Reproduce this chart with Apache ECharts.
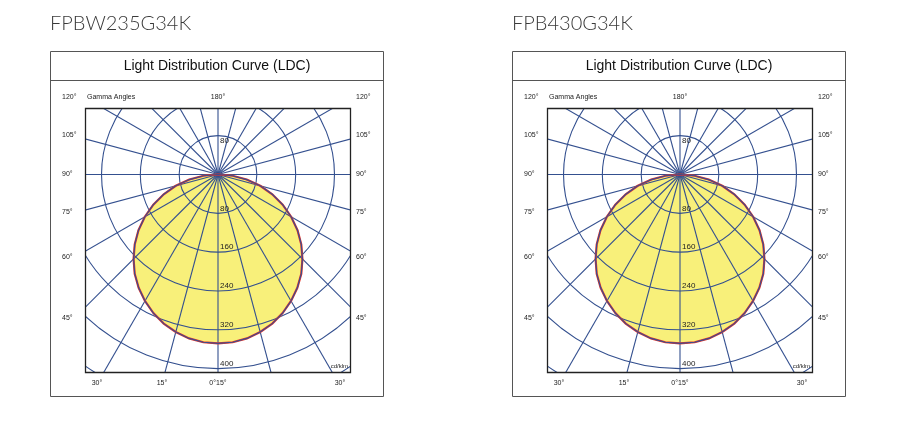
<!DOCTYPE html>
<html><head><meta charset="utf-8">
<script src="https://cdn.jsdelivr.net/npm/echarts@6/dist/echarts.min.js"></script>
<style>html,body{margin:0;padding:0;background:#fff}#c{width:900px;height:425px}</style>
</head><body><div id="c"></div>
<script>
const products = ['FPBW235G34K', 'FPB430G34K'];
const gammaAngles = [0,5,10,15,20,25,30,35,40,45,50,55,60,65,70,75,80,85,90];
const intensityA = [348,347,343,336,327,315,301,285,267,246,224,200,174,147,119,90,60,30,0];
const intensityB = [348,347,343,336,327,315,301,285,267,246,224,200,174,147,119,90,60,30,0];
const ringValues = [80,160,240,320,400,480];
const ringLabels = ['80','160','240','320','400'];
const spokeAngles = [0,15,30,45,60,75,90,105,120,135,150,165,180,195,210,225,240,255,270,285,300,315,330,345];
const leftTicks = [['120°',97],['105°',135],['90°',174],['75°',212],['60°',257],['45°',318]];
const bottomTicks = [['30°',97],['15°',162],['0°15°',218],['30°',340]];

const chart = echarts.init(document.getElementById('c'));
const OFF = 462;
const GC = '#34508f';
const FONT = 'Liberation Sans';

function polygonPts(api, vals) {
  const pts = [];
  for (let i = 0; i < gammaAngles.length; i++) {
    const a = gammaAngles[i] * Math.PI / 180;
    pts.push(api.coord([-vals[i] * Math.sin(a), -vals[i] * Math.cos(a)]));
  }
  for (let i = gammaAngles.length - 1; i >= 0; i--) {
    const a = gammaAngles[i] * Math.PI / 180;
    pts.push(api.coord([vals[i] * Math.sin(a), -vals[i] * Math.cos(a)]));
  }
  return pts;
}

function makeSeries(idx, vals) {
  return [{
    type: 'custom', xAxisIndex: idx, yAxisIndex: idx, clip: true, silent: true,
    data: [0],
    renderItem: function (params, api) {
      const c = api.coord([0, 0]);
      const children = [];
      const pts = polygonPts(api, vals);
      children.push({type: 'polygon', shape: {points: pts}, style: {fill: '#f8f07a', stroke: null}});
      ringValues.forEach(r => {
        const p = api.coord([r, 0]);
        children.push({type: 'circle', shape: {cx: c[0], cy: c[1], r: p[0] - c[0]},
          style: {fill: null, stroke: GC, lineWidth: 1.1}});
      });
      spokeAngles.forEach(d => {
        const a = d * Math.PI / 180;
        const e = api.coord([700 * Math.sin(a), -700 * Math.cos(a)]);
        children.push({type: 'line', shape: {x1: c[0], y1: c[1], x2: e[0], y2: e[1]},
          style: {stroke: GC, lineWidth: 1.1}});
      });
      children.push({type: 'polyline', shape: {points: pts.concat([pts[0]])}, style: {fill: null, stroke: '#e8372a', lineWidth: 2.2}});
      children.push({type: 'polyline', shape: {points: pts.concat([pts[0]])}, style: {fill: null, stroke: '#3a4d8f', lineWidth: 1.2}});
      ringLabels.forEach((t, i) => {
        const p = api.coord([0, -ringValues[i]]);
        children.push({type: 'text', style: {x: p[0] + 2, y: p[1] - 1, text: t, fill: '#222', font: '8px ' + FONT, textVerticalAlign: 'bottom'}});
      });
      const p80 = api.coord([0, ringValues[0]]);
      children.push({type: 'text', style: {x: p80[0] + 2, y: p80[1] + 1, text: '80', fill: '#222', font: '8px ' + FONT, textVerticalAlign: 'top'}});
      return {type: 'group', children: children};
    }
  }];
}

const graphic = [];
products.forEach((name, k) => {
  const o = k * OFF;
  graphic.push({type: 'text', left: 50 + o, top: 14, style: {text: name, fill: '#3a3a3a', font: '300 20px Lato'}});
  graphic.push({type: 'rect', shape: {x: 50.5 + o, y: 51.5, width: 333, height: 345}, style: {fill: null, stroke: '#555', lineWidth: 1}});
  graphic.push({type: 'line', shape: {x1: 50.5 + o, y1: 80.5, x2: 383.5 + o, y2: 80.5}, style: {stroke: '#555', lineWidth: 1}});
  graphic.push({type: 'text', x: 217 + o, y: 66, style: {text: 'Light Distribution Curve (LDC)', fill: '#111', font: '14px ' + FONT, align: 'center', verticalAlign: 'middle'}});
  graphic.push({type: 'rect', z: 10, shape: {x: 85.5 + o, y: 108.5, width: 265, height: 264}, style: {fill: null, stroke: '#222', lineWidth: 1.3}});
  leftTicks.forEach(t => {
    graphic.push({type: 'text', x: 62 + o, y: t[1], style: {text: t[0], fill: '#222', font: '7px ' + FONT, verticalAlign: 'middle'}});
    graphic.push({type: 'text', x: 356 + o, y: t[1], style: {text: t[0], fill: '#222', font: '7px ' + FONT, verticalAlign: 'middle'}});
  });
  bottomTicks.forEach(t => {
    graphic.push({type: 'text', x: t[1] + o, y: 383, style: {text: t[0], fill: '#222', font: '7px ' + FONT, align: 'center', verticalAlign: 'middle'}});
  });
  graphic.push({type: 'text', x: 218 + o, y: 97, style: {text: '180°', fill: '#222', font: '7px ' + FONT, align: 'center', verticalAlign: 'middle'}});
  graphic.push({type: 'text', x: 87 + o, y: 97, style: {text: 'Gamma Angles', fill: '#222', font: '7px ' + FONT, verticalAlign: 'middle'}});
  graphic.push({type: 'text', z: 11, x: 348 + o, y: 366, style: {text: 'cd/klm', fill: '#222', font: '6px ' + FONT, align: 'right', verticalAlign: 'middle'}});
});

const grids = [], xAxes = [], yAxes = [];
products.forEach((n, k) => {
  grids.push({left: 85.5 + k * OFF, top: 108.5, width: 265, height: 264});
  xAxes.push({type: 'value', gridIndex: k, min: -273, max: 273, show: false});
  yAxes.push({type: 'value', gridIndex: k, min: -408, max: 136, show: false});
});

chart.setOption({
  animation: false,
  grid: grids, xAxis: xAxes, yAxis: yAxes,
  series: makeSeries(0, intensityA).concat(makeSeries(1, intensityB)),
  graphic: graphic
});
</script></body></html>
